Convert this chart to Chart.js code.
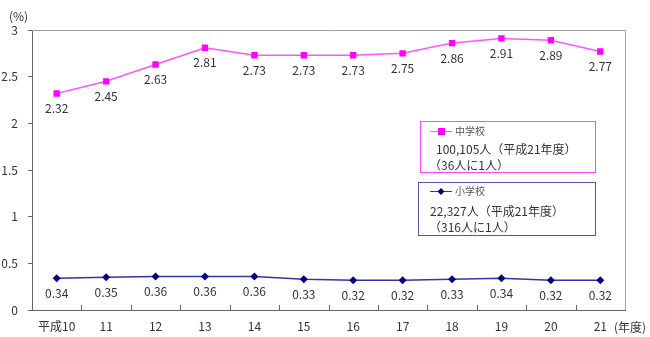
<!DOCTYPE html>
<html>
<head>
<meta charset="utf-8">
<script src="https://cdn.jsdelivr.net/npm/chart.js@4"></script>
<style>
  body { margin: 0; background: #fff; }
  #wrap { width: 650px; height: 337px; }
</style>
</head>
<body>
<div id="wrap"><canvas id="lineChart"></canvas></div>
<script>
const years = ['平成10', '11', '12', '13', '14', '15', '16', '17', '18', '19', '20', '21'];
const juniorHigh = [2.32, 2.45, 2.63, 2.81, 2.73, 2.73, 2.73, 2.75, 2.86, 2.91, 2.89, 2.77];
const elementary = [0.34, 0.35, 0.36, 0.36, 0.36, 0.33, 0.32, 0.32, 0.33, 0.34, 0.32, 0.32];
const yTicks = [0, 0.5, 1, 1.5, 2, 2.5, 3];

const FONT = '"Noto Sans CJK JP", "Liberation Sans", sans-serif';

// values under each point
const valueLabels = {
    id: 'valueLabels',
    afterDatasetsDraw(chart) {
        const ctx = chart.ctx;
        ctx.save();
        ctx.font = '12px ' + FONT;
        ctx.fillStyle = '#333';
        ctx.textAlign = 'center';
        ctx.textBaseline = 'middle';
        chart.data.datasets.forEach((ds, i) => {
            chart.getDatasetMeta(i).data.forEach((pt, j) => {
                ctx.fillText(ds.data[j].toFixed(2), pt.x, pt.y + 15);
            });
        });
        ctx.restore();
    }
};

// frame, inner x ticks, unit captions and the two note boxes
const extras = {
    id: 'extras',
    beforeDatasetsDraw(chart) {
        const a = chart.chartArea;
        const ctx = chart.ctx;
        const x = chart.scales.x;
        ctx.save();
        ctx.strokeStyle = '#a0a0a0';
        ctx.lineWidth = 1;
        ctx.beginPath();
        ctx.moveTo(a.left, a.top + 0.5);
        ctx.lineTo(a.right + 0.5, a.top + 0.5);
        ctx.lineTo(a.right + 0.5, a.bottom);
        ctx.stroke();

        // category boundary ticks pointing up into the plot
        ctx.strokeStyle = '#666';
        ctx.beginPath();
        for (let i = 0; i < years.length - 1; i++) {
            const px = Math.round((x.getPixelForValue(i) + x.getPixelForValue(i + 1)) / 2) + 0.5;
            ctx.moveTo(px, a.bottom);
            ctx.lineTo(px, a.bottom - 5);
        }
        ctx.stroke();
        ctx.restore();
    },
    afterDraw(chart) {
        const ctx = chart.ctx;
        ctx.save();
        ctx.font = '12px ' + FONT;
        ctx.fillStyle = '#333';
        ctx.textBaseline = 'middle';
        ctx.textAlign = 'left';
        ctx.fillText('(%)', 9, 16);
        ctx.fillText('(年度)', 614, 327);

        // 中学校 box
        ctx.strokeStyle = '#ff44ff';
        ctx.strokeRect(420.5, 121.5, 175, 51);
        ctx.strokeStyle = '#ff55ff';
        ctx.beginPath(); ctx.moveTo(430, 131.5); ctx.lineTo(452, 131.5); ctx.stroke();
        ctx.fillStyle = '#ff00ff';
        ctx.fillRect(438, 128, 7, 7);
        ctx.fillStyle = '#555';
        ctx.font = '10px ' + FONT;
        ctx.fillText('中学校', 455, 131);
        ctx.fillStyle = '#333';
        ctx.font = '12px ' + FONT;
        ctx.fillText('100,105人（平成21年度）', 436, 149);
        ctx.fillText('（36人に1人）', 429, 165);

        // 小学校 box
        ctx.strokeStyle = '#5555aa';
        ctx.strokeRect(418.5, 182.5, 177, 53);
        ctx.strokeStyle = '#3333aa';
        ctx.beginPath(); ctx.moveTo(430, 191.5); ctx.lineTo(452, 191.5); ctx.stroke();
        ctx.fillStyle = '#000080';
        ctx.beginPath();
        ctx.moveTo(441, 188); ctx.lineTo(444.5, 191.5); ctx.lineTo(441, 195); ctx.lineTo(437.5, 191.5);
        ctx.closePath(); ctx.fill();
        ctx.fillStyle = '#555';
        ctx.font = '10px ' + FONT;
        ctx.fillText('小学校', 455, 191);
        ctx.fillStyle = '#333';
        ctx.font = '12px ' + FONT;
        ctx.fillText('22,327人（平成21年度）', 430, 211);
        ctx.fillText('（316人に1人）', 429, 227);
        ctx.restore();
    }
};

document.addEventListener('DOMContentLoaded', function() {
    const ctx = document.getElementById('lineChart');

    new Chart(ctx, {
        type: 'line',
        data: {
            labels: years,
            datasets: [{
                label: '中学校',
                data: juniorHigh,
                borderColor: '#ff55ff',
                backgroundColor: '#ff00ff',
                borderWidth: 1.5,
                pointStyle: 'rect',
                pointRadius: 4.5,
                pointBorderWidth: 0,
                pointBackgroundColor: '#ff00ff'
            }, {
                label: '小学校',
                data: elementary,
                borderColor: '#3333aa',
                backgroundColor: '#000080',
                borderWidth: 1.5,
                pointStyle: 'rectRot',
                pointRadius: 4,
                pointBorderWidth: 0,
                pointBackgroundColor: '#000080'
            }]
        },
        options: {
            responsive: true,
            maintainAspectRatio: false,
            animation: false,
            layout: { padding: { top: 30, right: 25, left: 0, bottom: 0 } },
            plugins: {
                legend: { display: false },
                tooltip: { enabled: false }
            },
            scales: {
                x: {
                    offset: true,
                    afterFit(scale) { scale.height = 27; },
                    grid: { offset: true, drawOnChartArea: false, tickLength: 5, color: 'rgba(0,0,0,0)' },
                    border: { color: '#666', width: 1 },
                    ticks: { font: { family: FONT, size: 12 }, color: '#333', padding: 4, maxRotation: 0 }
                },
                y: {
                    min: 0,
                    max: 3,
                    afterFit(scale) { scale.width = 32; },
                    afterBuildTicks(scale) { scale.ticks = yTicks.map(v => ({ value: v })); },
                    grid: { drawOnChartArea: false, tickLength: 4, color: '#666' },
                    border: { color: '#666', width: 1 },
                    ticks: {
                        font: { family: FONT, size: 12 },
                        color: '#333',
                        padding: 10,
                        callback: v => String(v)
                    }
                }
            }
        },
        plugins: [valueLabels, extras]
    });
});
</script>
</body>
</html>
